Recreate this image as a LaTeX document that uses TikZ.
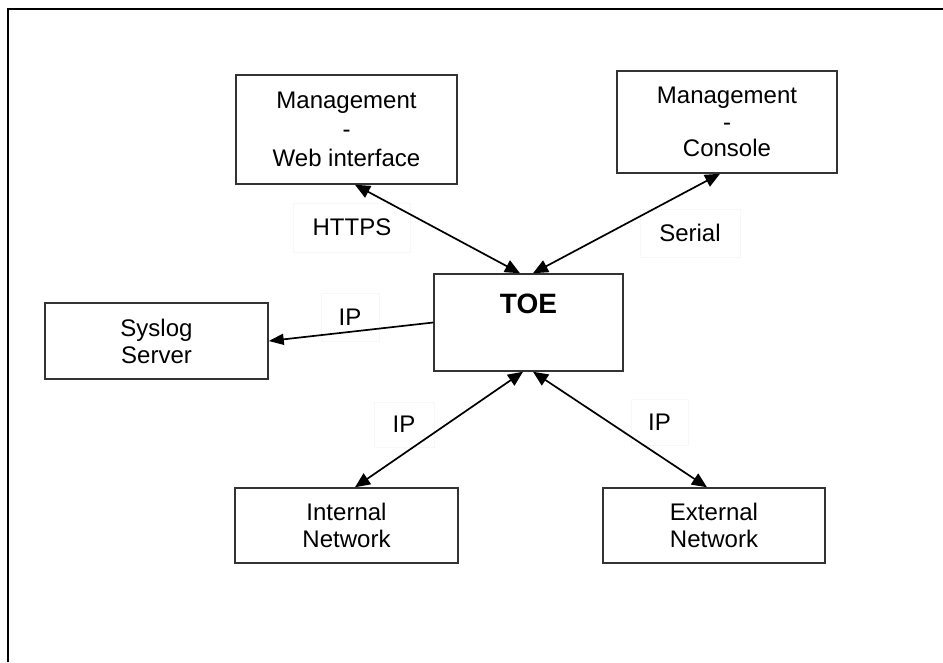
\documentclass[tikz,border=0pt]{standalone}
\usepackage{fontspec}
\setmainfont{Liberation Sans}
\usetikzlibrary{arrows.meta}
\begin{document}
\begin{tikzpicture}[x=1pt,y=-1pt,
  box/.style={draw=black!80, line width=1.5pt, inner sep=0pt, align=center,
    font=\fontsize{24}{27}\selectfont},
  lbl/.style={draw=black!3, line width=0.8pt, inner sep=0pt,
    font=\fontsize{24}{27}\selectfont},
  link/.style={line width=1.7pt,
    {Triangle[length=15pt,width=13pt]}-{Triangle[length=15pt,width=13pt]}},
  onelink/.style={line width=1.7pt, -{Triangle[length=15pt,width=11pt]}}]
\useasboundingbox (0,0) rectangle (943,662);
\fill[white] (0,0) rectangle (943,662);
% outer frame
\draw[line width=1.8pt] (8,662) -- (8,9) -- (943,9);

% boxes
\node[box, minimum width=221pt, minimum height=109pt,
  font=\fontsize{24}{29}\selectfont] (web) at (346.5,129.5)
  {Management\\-\\Web interface};
\node[box, minimum width=220pt, minimum height=102pt,
  font=\fontsize{24}{26.5}\selectfont] (console) at (727,122)
  {Management\\-\\Console};
\node[box, minimum width=189pt, minimum height=97pt] (toe) at (528.5,322.5) {};
\node[font=\bfseries\fontsize{28}{32}\selectfont, anchor=base, inner sep=0pt]
  (toelbl) at (528.5,313) {TOE};
\node[box, minimum width=223pt, minimum height=76pt] (syslog) at (156.5,341)
  {Syslog\\Server};
\node[box, minimum width=223pt, minimum height=75pt] (internal) at (346.5,525.5)
  {Internal\\Network};
\node[box, minimum width=222pt, minimum height=75pt] (external) at (714,525.5)
  {External\\Network};

% labels
\node[lbl, minimum width=117pt, minimum height=49pt] (lhttps) at (352,227.5) {HTTPS};
\node[lbl, minimum width=100pt, minimum height=48pt] (lserial) at (690,233) {Serial};
\node[lbl, minimum width=58pt, minimum height=48pt] (lipsys) at (350,317) {IP};
\node[lbl, minimum width=60pt, minimum height=45pt] (lipint) at (404,424.5) {IP};
\node[lbl, minimum width=57pt, minimum height=46pt] (lipext) at (659.5,422) {IP};

% connectors
\draw[link] ([xshift=8.5pt]web.south) -- ([xshift=-8.5pt]toe.north);
\draw[link] ([xshift=-7pt]console.south) -- ([xshift=4.5pt]toe.north);
\draw[onelink] (toe.west) -- (syslog.east);
\draw[link] ([xshift=8.5pt]internal.north) -- ([xshift=-5.5pt]toe.south);
\draw[link] ([xshift=-7pt]external.north) -- ([xshift=4.5pt]toe.south);
\end{tikzpicture}
\end{document}
